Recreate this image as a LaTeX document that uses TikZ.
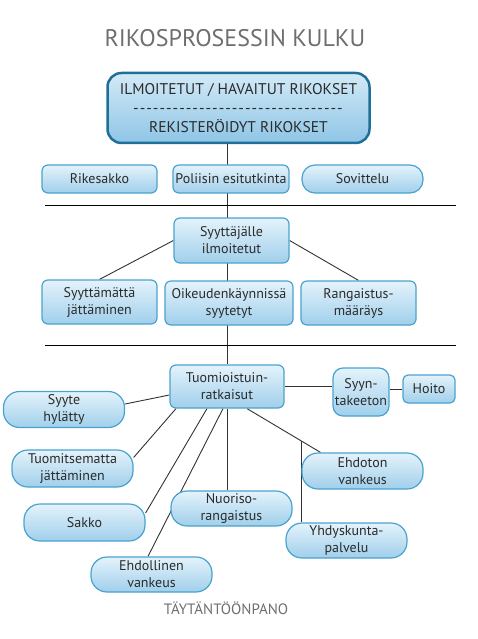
\documentclass[tikz,border=0pt]{standalone}
\usepackage{fontspec}
\setmainfont{PT Sans}
\usetikzlibrary{calc,backgrounds}
\definecolor{boxline}{HTML}{4AA3CF}
\definecolor{boxtop}{HTML}{E4F3FB}
\definecolor{boxmid}{HTML}{C4E3F4}
\definecolor{boxbot}{HTML}{A0CFEB}
\definecolor{headline}{HTML}{1F6F98}
\definecolor{headtop}{HTML}{D3EAF7}
\definecolor{headbot}{HTML}{8EC5E6}
\definecolor{titlegray}{HTML}{6E6E6E}
\definecolor{txt}{HTML}{2B2B2B}
\newcommand\dashrow{\foreach\i in {1,...,32}{-\kern1pt}}

\begin{document}
\begin{tikzpicture}[x=1pt,y=-1pt,
    box/.style={draw=boxline, line width=1.2pt, top color=boxtop, middle color=boxmid, bottom color=boxbot,
        rounded corners=6pt, align=center, inner sep=0pt, text=txt,
        font=\fontsize{14}{17}\selectfont, minimum width=115pt, minimum height=28pt},
    pill/.style={box, rounded corners=16pt, minimum width=121pt, minimum height=36pt},
    head/.style={box, draw=headline, line width=2.5pt, top color=headtop, middle color=boxmid, bottom color=headbot,
        rounded corners=14pt, minimum width=262pt, minimum height=70pt, font=\fontsize{15.5}{19}\selectfont},
    link/.style={draw=black!80, line width=0.9pt},
    sep/.style={draw=black, line width=0.9pt}]
    \useasboundingbox (0,0) rectangle (477,639);
    \node[font=\fontsize{24}{24}\selectfont, text=titlegray] (title) at (235,38) {RIKOSPROSESSIN KULKU};
    \node[head] (ilm) at (238.5,108) {ILMOITETUT / HAVAITUT RIKOKSET\\\dashrow\\REKISTERÖIDYT RIKOKSET};
    \node[box] (rike) at (99.5,179) {Rikesakko};
    \node[box, minimum width=116pt] (poli) at (231,179) {Poliisin esitutkinta};
    \node[pill, minimum height=28pt, rounded corners=13pt] (sov) at (362.5,179) {Sovittelu};
    \draw[sep] (45,205) -- (456,205);
    \node[box, minimum height=45pt] (syyt) at (231.5,240.5) {Syyttäjälle\\ilmoitetut};
    \node[box, minimum height=44pt] (sjat) at (99.5,302) {Syyttämättä\\jättäminen};
    \node[box, minimum width=128pt, minimum height=44pt] (oik) at (229,303) {Oikeudenkäynnissä\\syytetyt};
    \node[box, minimum height=44pt] (rang) at (358.5,303) {Rangaistus-\\määräys};
    \draw[sep] (45,345) -- (456,345);
    \node[box, minimum width=114pt, minimum height=43pt] (tuom) at (227,386.5) {Tuomioistuin-\\ratkaisut};
    \node[box, minimum width=56pt, minimum height=48pt, rounded corners=10pt] (syyn) at (361,392) {Syyn-\\takeeton};
    \node[box, minimum width=52pt, rounded corners=5pt] (hoito) at (429,389) {Hoito};
    \node[pill] (syyh) at (64,409.5) {Syyte\\hylätty};
    \node[pill, minimum height=37pt] (tjat) at (72.5,468.5) {Tuomitsematta\\jättäminen};
    \node[pill, minimum height=37pt] (sakko) at (84.5,522.5) {Sakko};
    \node[pill, minimum height=35pt] (ehdv) at (151.5,574.5) {Ehdollinen\\vankeus};
    \node[pill, minimum height=35pt] (nuor) at (231.5,508.5) {Nuoriso-\\rangaistus};
    \node[pill] (ehdo) at (362.5,471) {Ehdoton\\vankeus};
    \node[pill, minimum height=35pt] (yhd) at (346.5,540.5) {Yhdyskunta-\\palvelu};
    \node[font=\fontsize{15}{15}\selectfont, text=titlegray] (foot) at (226,608) {TÄYTÄNTÖÖNPANO};
    \begin{scope}[on background layer]
        \draw[link] (ilm.south -| tuom.north) -- (tuom.north);
        \draw[link] (syyt.west) -- (sjat.north);
        \draw[link] (syyt.east) -- (rang.north);
        \draw[link] (tuom.east) -- (tuom.east -| syyn.west);
        \draw[link] (hoito.west -| syyn.east) -- (hoito.west);
        \draw[link] ([yshift=5.5pt]syyh.east) -- ([yshift=-8.5pt]tuom.west);
        \draw[link] ([xshift=-51pt]tuom.south) -- ([yshift=11pt]tjat.east);
        \draw[link] ([xshift=-20pt]tuom.south) -- ([yshift=9.5pt]sakko.east);
        \draw[link] ([xshift=-4pt]tuom.south) -- ([xshift=-3.5pt]ehdv.north);
        \draw[link] (tuom.south) -- (tuom.south |- nuor.north);
        \draw[link] ([xshift=20pt]tuom.south) -- ([xshift=-42pt]ehdo.north) coordinate[pos=0.74] (split);
        \draw[link] (split) -- (split |- yhd.north);
    \end{scope}
\end{tikzpicture}
\end{document}
